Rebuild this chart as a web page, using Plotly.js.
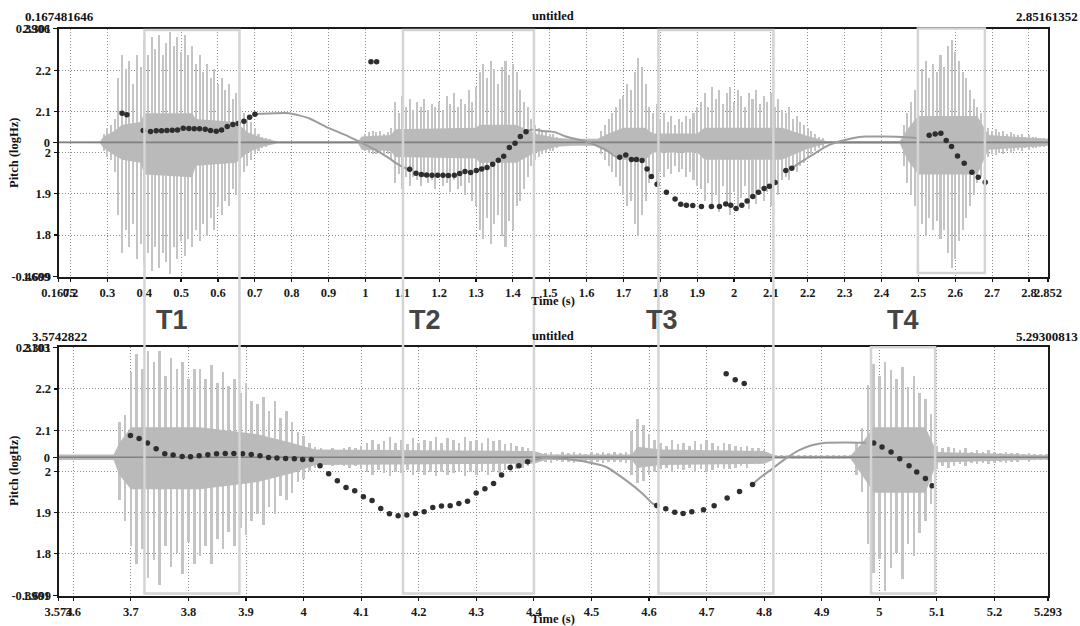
<!DOCTYPE html>
<html><head><meta charset="utf-8">
<script src="https://cdn.plot.ly/plotly-3.0.1.min.js"></script>
<style>html,body{margin:0;padding:0;background:#fff}#chart{width:1080px;height:626px}</style>
</head><body><div id="chart"></div>
<script>
// ---------------- axis ranges / labels ----------------
const topRange = [0.167481646, 2.85161352];
const botRange = [3.5742822, 5.29300813];
const pitchRange = [1.699, 2.301];
const topWaveRange = [-0.4609, 0.3906];
const botWaveRange = [-0.3901, 0.3103];
const topTickVals = [0.167481646,0.2,0.3,0.4,0.5,0.6,0.7,0.8,0.9,1,1.1,1.2,1.3,1.4,1.5,1.6,1.7,1.8,1.9,2,2.1,2.2,2.3,2.4,2.5,2.6,2.7,2.8,2.85161352];
const topTickText = ['0.1675','0.2','0.3','0.4','0.5','0.6','0.7','0.8','0.9','1','1.1','1.2','1.3','1.4','1.5','1.6','1.7','1.8','1.9','2','2.1','2.2','2.3','2.4','2.5','2.6','2.7','2.8','2.852'];
const botTickVals = [3.5742822,3.6,3.7,3.8,3.9,4,4.1,4.2,4.3,4.4,4.5,4.6,4.7,4.8,4.9,5,5.1,5.2,5.29300813];
const botTickText = ['3.574','3.6','3.7','3.8','3.9','4','4.1','4.2','4.3','4.4','4.5','4.6','4.7','4.8','4.9','5','5.1','5.2','5.293'];
const pitchTickVals = [1.699,1.8,1.9,2,2.1,2.2,2.301];
const pitchTickText = ['1.699','1.8','1.9','2','2.1','2.2','2.301'];
const topWaveTickText = ['-0.4609','0','0.3906'];
const botWaveTickText = ['-0.3901','0','0.3103'];

// ---------------- pitch points (log10 Hz) ----------------
const topDotsT = [0.340,0.353,0.3972,0.4171,0.4325,0.447,0.4615,0.476,0.4904,0.5058,0.5212,0.5356,0.5501,0.5655,0.5799,0.5953,0.6098,0.6252,0.6406,0.655,0.6704,0.6858,0.7003,
  1.0151,1.0305,
  1.12,1.1372,1.1517,1.1661,1.1806,1.196,1.2105,1.2249,1.2412,1.2557,1.2702,1.2855,1.3009,1.3154,1.3299,1.3452,1.3606,1.3751,1.3905,1.4059,1.4203,1.4357,
  1.6899,1.7062,1.7216,1.7351,1.7505,1.764,1.7758,1.7912,1.8165,1.84,1.8554,1.8708,1.888,1.9115,1.9386,1.9604,1.9775,1.9911,2.0055,2.021,2.0354,2.0508,2.0662,2.0815,2.096,2.1114,2.1404,2.1566,
  2.5293,2.5456,2.561,2.5754,2.5899,2.6062,2.6243,2.6451,2.6623,2.6813];
const topDotsP = [2.0957,2.092,2.0535,2.051,2.0527,2.0527,2.0535,2.0543,2.0551,2.0592,2.0584,2.0576,2.0576,2.0568,2.0535,2.0519,2.0551,2.0632,2.068,2.0705,2.0762,2.0859,2.0932,
  2.2202,2.2202,
  1.9597,1.95,1.9467,1.9459,1.9451,1.9451,1.9451,1.9443,1.9451,1.9491,1.954,1.9516,1.9564,1.9605,1.9637,1.9718,1.9815,1.9912,2.0122,2.0228,2.0389,2.0503,
  1.9888,1.9944,1.9831,1.9831,1.9807,1.9605,1.9418,1.9232,1.9038,1.8876,1.8747,1.8723,1.8715,1.869,1.869,1.869,1.8755,1.8723,1.8642,1.8723,1.8828,1.8933,1.9038,1.9127,1.9184,1.9273,1.9564,1.9621,
  2.0422,2.0454,2.047,2.0292,2.0147,1.992,1.9742,1.9524,1.9402,1.9281];
const botDotsT = [3.6992,3.7143,3.7288,3.7439,3.7589,3.7734,3.7891,3.8036,3.8186,3.8337,3.8488,3.8639,3.8789,3.894,3.9091,3.9242,3.9392,3.9537,3.9688,3.9839,3.9984,4.0134,4.0285,4.0436,4.0586,4.0737,4.0888,4.1039,4.1189,4.134,4.1491,4.1642,4.1792,4.1943,4.2094,4.2244,4.2395,4.2546,4.2697,4.2847,4.2998,4.3149,4.33,4.3439,4.3589,4.374,4.3891,
  4.6134,4.6291,4.6447,4.6592,4.6743,4.6946,4.7131,4.7357,4.7572,4.7798,
  4.734,4.7497,4.7653,
  4.9902,5.0047,5.0204,5.0355,5.0517,5.065,5.0801,5.0917];
const botDotsP = [2.0873,2.0801,2.0687,2.055,2.0428,2.0396,2.0364,2.0355,2.038,2.0404,2.0428,2.0436,2.0436,2.0428,2.0412,2.038,2.0339,2.0323,2.0315,2.0307,2.0291,2.0291,2.0137,1.9943,1.9773,1.9611,1.953,1.9385,1.9296,1.9101,1.8972,1.8923,1.894,1.898,1.902,1.9126,1.9158,1.9166,1.9223,1.9279,1.9474,1.9579,1.9708,1.991,2.0097,2.0137,2.0234,
  1.9174,1.9093,1.9012,1.898,1.902,1.9069,1.9166,1.9352,1.9514,1.9684,
  2.237,2.2224,2.2135,
  2.0687,2.059,2.0469,2.0307,2.0137,1.9983,1.983,1.9652];

// ---------------- smooth pitch curve (grey) ----------------
const topCurve1T = [0.7003,0.7157,0.7925,0.8468,0.9011,0.9554,0.9915,1.0277,1.0639,1.0911,1.1137,1.12];
const topCurve1P = [2.0932,2.094,2.0956,2.0834,2.0592,2.0389,2.0228,2.0066,1.9864,1.9702,1.9605,1.9597];
const topCurve2T = [1.4357,1.4484,1.487,1.5162,1.5434,1.5976,1.6519,1.6836,1.6899];
const topCurve2P = [2.0503,2.0551,2.052,2.049,2.0389,2.0268,2.0066,1.988,1.9888];
const topCurve3T = [2.1566,2.181,2.2127,2.2489,2.2851,2.3213,2.3575,2.4117,2.466,2.4977];
const topCurve3P = [1.9621,1.9767,1.9944,2.0147,2.0268,2.0349,2.0389,2.0389,2.0373,2.0349];
const botCurve1T = [4.3891,4.4204,4.4552,4.49,4.5247,4.5595,4.5885,4.6059,4.6134];
const botCurve1P = [2.0234,2.0339,2.0299,2.0234,2.0113,1.9789,1.9466,1.9223,1.9174];
const botCurve2T = [4.7798,4.7914,4.8146,4.8378,4.861,4.8842,4.9073,4.9421,4.9769];
const botCurve2P = [1.9684,1.983,2.0072,2.0315,2.0517,2.0639,2.0695,2.0703,2.0695];

// ---------------- waveform envelope (10 ms frames) ----------------
const WAVE_STEP = 0.01;
const topWaveStart = [0.29, 0.99, 1.64, 2.46];
const topWaveMax1 = [0.03,0.05,0.06,0.08,0.22,0.30,0.25,0.28,0.20,0.30,0.26,0.35,0.30,0.36,0.32,0.37,0.30,0.34,0.38,0.33,0.36,0.31,0.37,0.30,0.33,0.27,0.30,0.24,0.27,0.22,0.25,0.20,0.22,0.18,0.20,0.15,0.17,0.12,0.10,0.08,0.07,0.05,0.03,0.02,0.015,0.01];
const topWaveMin1 = [-0.03,-0.05,-0.06,-0.10,-0.25,-0.38,-0.30,-0.36,-0.28,-0.40,-0.35,-0.42,-0.38,-0.44,-0.36,-0.43,-0.38,-0.41,-0.45,-0.36,-0.40,-0.34,-0.39,-0.33,-0.36,-0.30,-0.34,-0.28,-0.32,-0.26,-0.30,-0.22,-0.25,-0.20,-0.22,-0.16,-0.18,-0.12,-0.10,-0.08,-0.06,-0.04,-0.03,-0.02,-0.015,-0.01];
const topWaveMax2 = [0.02,0.03,0.035,0.04,0.035,0.04,0.03,0.035,0.05,0.14,0.10,0.16,0.12,0.15,0.11,0.14,0.12,0.15,0.11,0.13,0.12,0.14,0.11,0.16,0.13,0.17,0.12,0.15,0.13,0.18,0.14,0.19,0.24,0.27,0.22,0.28,0.25,0.20,0.26,0.28,0.23,0.27,0.24,0.18,0.14,0.12,0.08,0.06,0.05,0.04,0.035,0.03,0.03,0.02];
const topWaveMin2 = [-0.02,-0.03,-0.035,-0.04,-0.04,-0.035,-0.04,-0.04,-0.06,-0.14,-0.11,-0.16,-0.12,-0.15,-0.12,-0.13,-0.15,-0.12,-0.14,-0.13,-0.16,-0.12,-0.15,-0.14,-0.17,-0.13,-0.16,-0.15,-0.18,-0.14,-0.2,-0.22,-0.30,-0.33,-0.26,-0.35,-0.28,-0.25,-0.32,-0.36,-0.27,-0.30,-0.22,-0.20,-0.16,-0.12,-0.08,-0.06,-0.05,-0.04,-0.035,-0.03,-0.03,-0.02];
const topWaveMax3 = [0.04,0.06,0.08,0.10,0.12,0.15,0.16,0.20,0.18,0.24,0.29,0.26,0.20,0.12,0.10,0.13,0.08,0.10,0.07,0.09,0.06,0.08,0.07,0.09,0.08,0.10,0.12,0.14,0.17,0.12,0.19,0.15,0.18,0.13,0.17,0.19,0.14,0.18,0.16,0.12,0.17,0.15,0.18,0.13,0.16,0.14,0.17,0.12,0.15,0.11,0.10,0.12,0.08,0.09,0.07,0.06,0.05,0.04,0.03,0.02,0.015];
const topWaveMin3 = [-0.04,-0.06,-0.08,-0.10,-0.12,-0.15,-0.18,-0.22,-0.20,-0.28,-0.32,-0.25,-0.20,-0.14,-0.12,-0.15,-0.10,-0.12,-0.09,-0.11,-0.08,-0.10,-0.09,-0.12,-0.10,-0.13,-0.15,-0.16,-0.20,-0.14,-0.22,-0.18,-0.24,-0.15,-0.21,-0.25,-0.17,-0.22,-0.19,-0.15,-0.23,-0.18,-0.21,-0.16,-0.20,-0.17,-0.22,-0.14,-0.18,-0.13,-0.12,-0.13,-0.09,-0.10,-0.08,-0.07,-0.05,-0.04,-0.03,-0.02,-0.015];
const topWaveMax4 = [0.06,0.10,0.14,0.18,0.20,0.25,0.28,0.22,0.27,0.24,0.30,0.26,0.33,0.35,0.31,0.28,0.24,0.22,0.18,0.15,0.12,0.10,0.08,0.05,0.04,0.045,0.035,0.04,0.03,0.035,0.03,0.025,0.03,0.02,0.025,0.02,0.02,0.015,0.015,0.01];
const topWaveMin4 = [-0.08,-0.14,-0.18,-0.22,-0.25,-0.28,-0.32,-0.26,-0.30,-0.27,-0.33,-0.30,-0.38,-0.43,-0.40,-0.34,-0.30,-0.26,-0.22,-0.18,-0.14,-0.12,-0.09,-0.05,-0.04,-0.045,-0.035,-0.04,-0.03,-0.035,-0.03,-0.025,-0.03,-0.02,-0.025,-0.02,-0.02,-0.015,-0.015,-0.01];
const botWaveStart = [3.68, 4.42];
const botWaveMax1 = [0.10,0.12,0.24,0.29,0.25,0.30,0.27,0.30,0.23,0.28,0.25,0.27,0.22,0.25,0.25,0.22,0.26,0.21,0.24,0.20,0.22,0.18,0.21,0.16,0.15,0.17,0.13,0.16,0.11,0.13,0.10,0.07,0.06,0.04,0.03,0.025,0.02,0.025,0.02,0.025,0.03,0.025,0.033,0.041,0.049,0.037,0.045,0.057,0.041,0.049,0.037,0.053,0.041,0.049,0.045,0.057,0.041,0.053,0.049,0.041,0.057,0.045,0.049,0.041,0.053,0.045,0.049,0.037,0.041,0.033,0.029,0.025];
const botWaveMin1 = [-0.12,-0.18,-0.25,-0.30,-0.26,-0.34,-0.29,-0.36,-0.25,-0.31,-0.27,-0.33,-0.24,-0.30,-0.28,-0.25,-0.30,-0.23,-0.26,-0.21,-0.25,-0.20,-0.22,-0.18,-0.16,-0.19,-0.14,-0.16,-0.11,-0.12,-0.10,-0.07,-0.06,-0.04,-0.03,-0.025,-0.02,-0.025,-0.02,-0.025,-0.03,-0.025,-0.033,-0.041,-0.049,-0.037,-0.045,-0.053,-0.041,-0.045,-0.037,-0.049,-0.041,-0.049,-0.041,-0.053,-0.041,-0.049,-0.045,-0.041,-0.053,-0.041,-0.049,-0.041,-0.049,-0.041,-0.045,-0.037,-0.041,-0.033,-0.029,-0.025];
const botWaveMax2 = [0.012,0.015,0.01,0.014,0.012,0.015,0.012,0.01,0.014,0.012,0.015,0.012,0.014,0.012,0.015,0.074,0.107,0.09,0.066,0.049,0.041,0.033,0.049,0.037,0.041,0.033,0.045,0.037,0.049,0.041,0.033,0.041,0.037,0.033,0.029,0.033,0.025,0.025,0.02,0.005,0.005,0.005,0.005,0.005,0.005,0.005,0.005,0.005,0.005,0.005,0.005,0.005,0.005,0.005,0.041,0.082,0.205,0.262,0.23,0.27,0.246,0.221,0.254,0.197,0.23,0.18,0.164,0.123,0.033,0.025,0.029,0.025,0.02,0.025,0.016,0.02,0.016,0.02,0.016,0.012,0.016,0.012,0.012,0.008,0.012,0.008,0.008,0.008];
const botWaveMin2 = [-0.012,-0.015,-0.01,-0.014,-0.012,-0.015,-0.012,-0.01,-0.014,-0.012,-0.015,-0.012,-0.014,-0.012,-0.015,-0.049,-0.074,-0.066,-0.049,-0.041,-0.033,-0.029,-0.041,-0.033,-0.037,-0.029,-0.041,-0.033,-0.041,-0.037,-0.029,-0.033,-0.033,-0.029,-0.025,-0.029,-0.02,-0.02,-0.016,-0.005,-0.005,-0.005,-0.005,-0.005,-0.005,-0.005,-0.005,-0.005,-0.005,-0.005,-0.005,-0.005,-0.005,-0.005,-0.049,-0.098,-0.246,-0.328,-0.287,-0.377,-0.312,-0.271,-0.344,-0.246,-0.279,-0.213,-0.18,-0.131,-0.033,-0.025,-0.029,-0.025,-0.02,-0.025,-0.016,-0.02,-0.016,-0.02,-0.016,-0.012,-0.016,-0.012,-0.012,-0.008,-0.012,-0.008,-0.008,-0.008];

// dense core of the waveform
const topCoreT  = [0.1675,0.28,0.29,0.32,0.34,0.39,0.40,0.53,0.54,0.65,0.68,0.72,0.76,0.98,0.99,1.07,1.08,1.30,1.31,1.41,1.46,1.52,1.56,1.63,1.66,1.70,1.76,1.78,1.90,1.92,2.13,2.20,2.25,2.45,2.47,2.50,2.66,2.69,2.8516];
const topCoreUp = [0.002,0.003,0.02,0.04,0.06,0.07,0.10,0.10,0.08,0.07,0.035,0.015,0.004,0.004,0.02,0.025,0.045,0.05,0.06,0.06,0.03,0.015,0.012,0.012,0.03,0.05,0.05,0.03,0.03,0.05,0.05,0.022,0.005,0.005,0.045,0.09,0.09,0.025,0.012];
const topCoreDn = [-0.002,-0.003,-0.02,-0.045,-0.06,-0.07,-0.11,-0.12,-0.08,-0.07,-0.035,-0.015,-0.004,-0.004,-0.025,-0.03,-0.05,-0.055,-0.07,-0.07,-0.035,-0.015,-0.012,-0.012,-0.03,-0.06,-0.06,-0.035,-0.035,-0.06,-0.06,-0.022,-0.005,-0.005,-0.06,-0.11,-0.11,-0.025,-0.012];
const botCoreT  = [3.5743,3.67,3.68,3.70,3.82,3.92,3.98,4.02,4.40,4.42,4.57,4.58,4.62,4.80,4.82,4.95,4.97,4.99,5.08,5.10,5.293];
const botCoreUp = [0.008,0.008,0.04,0.085,0.085,0.065,0.04,0.022,0.018,0.008,0.008,0.03,0.022,0.018,0.004,0.004,0.04,0.085,0.085,0.015,0.006];
const botCoreDn = [-0.008,-0.008,-0.05,-0.09,-0.09,-0.07,-0.045,-0.022,-0.018,-0.008,-0.008,-0.03,-0.022,-0.018,-0.004,-0.004,-0.05,-0.10,-0.10,-0.015,-0.006];

// interval boxes (top-panel time for T1-T3, spanning both panels)
const boxLabels = ['T1','T2','T3','T4'];
const boxStart = [0.4007, 1.1019, 1.7948, 2.4987];
const boxEnd   = [0.6584, 1.4571, 2.1067, 2.6804];
const boxBotT4 = [4.9856, 5.0969];

// ---------------- build ----------------
const W = 1080, H = 626;
const PX = x => x / W, PY = y => 1 - y / H;
const SERIF = 'Liberation Serif, Times New Roman, serif';
const WAVE_C = '#c4c4c4', CORE_C = '#bababa';
const GRID_DASH = '1px,2px';

function waveBars(t0, hi, lo, xa, ya, w) {
  const x = hi.map((_, i) => +(t0 + i * WAVE_STEP).toFixed(3));
  return {type:'bar', x:x, y:hi.map((h,i)=>h-lo[i]), base:lo, width:w,
    marker:{color:WAVE_C, line:{width:0}}, xaxis:xa, yaxis:ya, hoverinfo:'skip'};
}
function corePoly(t, up, dn, xa, ya) {
  return {type:'scatter', mode:'lines', x:t.concat(t.slice().reverse()),
    y:up.concat(dn.slice().reverse()), fill:'toself', fillcolor:CORE_C,
    line:{width:0, color:CORE_C}, xaxis:xa, yaxis:ya, hoverinfo:'skip'};
}
function zeroLine(range, xa, ya) {
  return {type:'scatter', mode:'lines', x:range, y:[0,0], line:{color:'#808080', width:1.6},
    xaxis:xa, yaxis:ya, hoverinfo:'skip'};
}
function curve(t, p, xa, ya) {
  return {type:'scatter', mode:'lines', x:t, y:p, line:{color:'#9c9c9c', width:2, shape:'spline', smoothing:0.5},
    xaxis:xa, yaxis:ya, hoverinfo:'skip'};
}
function dots(t, p, xa, ya) {
  return {type:'scatter', mode:'markers', x:t, y:p, marker:{color:'#2e2e2e', size:5.5},
    xaxis:xa, yaxis:ya, hoverinfo:'skip'};
}

const traces = [];
[[topWaveMax1,topWaveMin1],[topWaveMax2,topWaveMin2],[topWaveMax3,topWaveMin3],[topWaveMax4,topWaveMin4]]
  .forEach((s, i) => traces.push(waveBars(topWaveStart[i], s[0], s[1], 'x', 'y', 0.0055)));
traces.push(corePoly(topCoreT, topCoreUp, topCoreDn, 'x', 'y'));
traces.push(zeroLine(topRange, 'x', 'y'));
[[botWaveMax1,botWaveMin1],[botWaveMax2,botWaveMin2]]
  .forEach((s, i) => traces.push(waveBars(botWaveStart[i], s[0], s[1], 'x2', 'y3', 0.0045)));
traces.push(corePoly(botCoreT, botCoreUp, botCoreDn, 'x2', 'y3'));
traces.push(zeroLine(botRange, 'x2', 'y3'));

traces.push(curve(topCurve1T, topCurve1P, 'x', 'y2'));
traces.push(curve(topCurve2T, topCurve2P, 'x', 'y2'));
traces.push(curve(topCurve3T, topCurve3P, 'x', 'y2'));
traces.push(curve(botCurve1T, botCurve1P, 'x2', 'y4'));
traces.push(curve(botCurve2T, botCurve2P, 'x2', 'y4'));
traces.push(dots(topDotsT, topDotsP, 'x', 'y2'));
traces.push(dots(botDotsT, botDotsP, 'x2', 'y4'));

const tickFont = {family:SERIF, size:12.5, color:'#1a1a1a', weight:'bold'};
const xDomain = [PX(58.5), PX(1048)];
const topDom = [PY(276.7), PY(28.5)];
const botDom = [PY(595.5), PY(347.3)];

function xAxis(range, vals, text, anchor, dom) {
  return {domain:dom, range:range, anchor:anchor, tickmode:'array', tickvals:vals, ticktext:text, tickangle:0,
    ticks:'outside', ticklen:3, tickwidth:1.2, tickcolor:'#111', tickfont:tickFont,
    showgrid:true, gridcolor:'#8c8c8c', griddash:GRID_DASH, gridwidth:1,
    showline:true, mirror:true, linecolor:'#1a1a1a', linewidth:2, zeroline:false, fixedrange:true};
}
function waveAxis(range, text, anchor, dom) {
  return {domain:dom, range:range, anchor:anchor, tickmode:'array', tickvals:[range[0],0,range[1]], ticktext:text, tickangle:0,
    ticks:'outside', ticklen:4, tickwidth:1.2, tickcolor:'#111', tickfont:tickFont,
    showgrid:false, zeroline:false, showline:true, mirror:true, linecolor:'#1a1a1a', linewidth:2, fixedrange:true};
}
function pitchAxis(over, anchor) {
  return {overlaying:over, anchor:anchor, side:'left', range:pitchRange, tickmode:'array', tickangle:0,
    tickvals:pitchTickVals, ticktext:pitchTickText, ticks:'outside', ticklen:4, tickwidth:1.2, tickcolor:'#111',
    tickfont:tickFont, showgrid:true, gridcolor:'#8c8c8c', griddash:GRID_DASH, gridwidth:1,
    zeroline:false, showline:false, fixedrange:true};
}

const shapes = [];
for (let i = 0; i < 3; i++) {
  shapes.push({type:'rect', xref:'x', yref:'paper', x0:boxStart[i], x1:boxEnd[i], y0:PY(593.5), y1:PY(30),
    line:{color:'#d4d4d4', width:2.5}, fillcolor:'rgba(0,0,0,0)', layer:'above'});
}
shapes.push({type:'rect', xref:'x', yref:'paper', x0:boxStart[3], x1:boxEnd[3], y0:PY(273), y1:PY(28.5),
  line:{color:'#d4d4d4', width:2.5}, fillcolor:'rgba(0,0,0,0)', layer:'above'});
shapes.push({type:'rect', xref:'x2', yref:'paper', x0:boxBotT4[0], x1:boxBotT4[1], y0:PY(593.5), y1:PY(347.3),
  line:{color:'#d4d4d4', width:2.5}, fillcolor:'rgba(0,0,0,0)', layer:'above'});

const hdrFont = {family:SERIF, size:13, color:'#111', weight:'bold'};
const lblFont = {family:SERIF, size:12.5, color:'#111', weight:'bold'};
function ann(text, x, y, font, extra) {
  return Object.assign({text:text, xref:'paper', yref:'paper', x:PX(x), y:PY(y), xanchor:'center', yanchor:'middle',
    showarrow:false, font:font}, extra || {});
}
const annotations = [
  ann('0.167481646', 59, 16, hdrFont), ann('untitled', 553, 16, lblFont), ann('2.85161352', 1047, 16, hdrFont),
  ann('3.5742822', 59, 336, hdrFont), ann('untitled', 553, 336, lblFont), ann('5.29300813', 1047, 336, hdrFont),
  ann('Pitch (logHz)', 14, 153, lblFont, {textangle:-90}),
  ann('Pitch (logHz)', 14, 471, lblFont, {textangle:-90}),
  ann('Time (s)', 553, 301, lblFont),
  ann('Time (s)', 553, 619, lblFont)
];
const labelX = [172, 425, 662, 903];
const tFont = {family:'Liberation Sans, Arial, sans-serif', size:27, color:'#454545', weight:'bold'};
boxLabels.forEach((l, i) => annotations.push(ann(l, labelX[i], 320, tFont)));

const layout = {
  width:W, height:H, margin:{l:0, r:0, t:0, b:0}, paper_bgcolor:'#fff', plot_bgcolor:'#fff',
  showlegend:false, barmode:'overlay', bargap:0,
  xaxis: xAxis(topRange, topTickVals, topTickText, 'y', xDomain),
  yaxis: waveAxis(topWaveRange, topWaveTickText, 'x', topDom),
  yaxis2: pitchAxis('y', 'x'),
  xaxis2: xAxis(botRange, botTickVals, botTickText, 'y3', xDomain),
  yaxis3: waveAxis(botWaveRange, botWaveTickText, 'x2', botDom),
  yaxis4: pitchAxis('y3', 'x2'),
  shapes:shapes, annotations:annotations
};
Plotly.newPlot('chart', traces, layout, {staticPlot:true, displayModeBar:false});
</script></body></html>
